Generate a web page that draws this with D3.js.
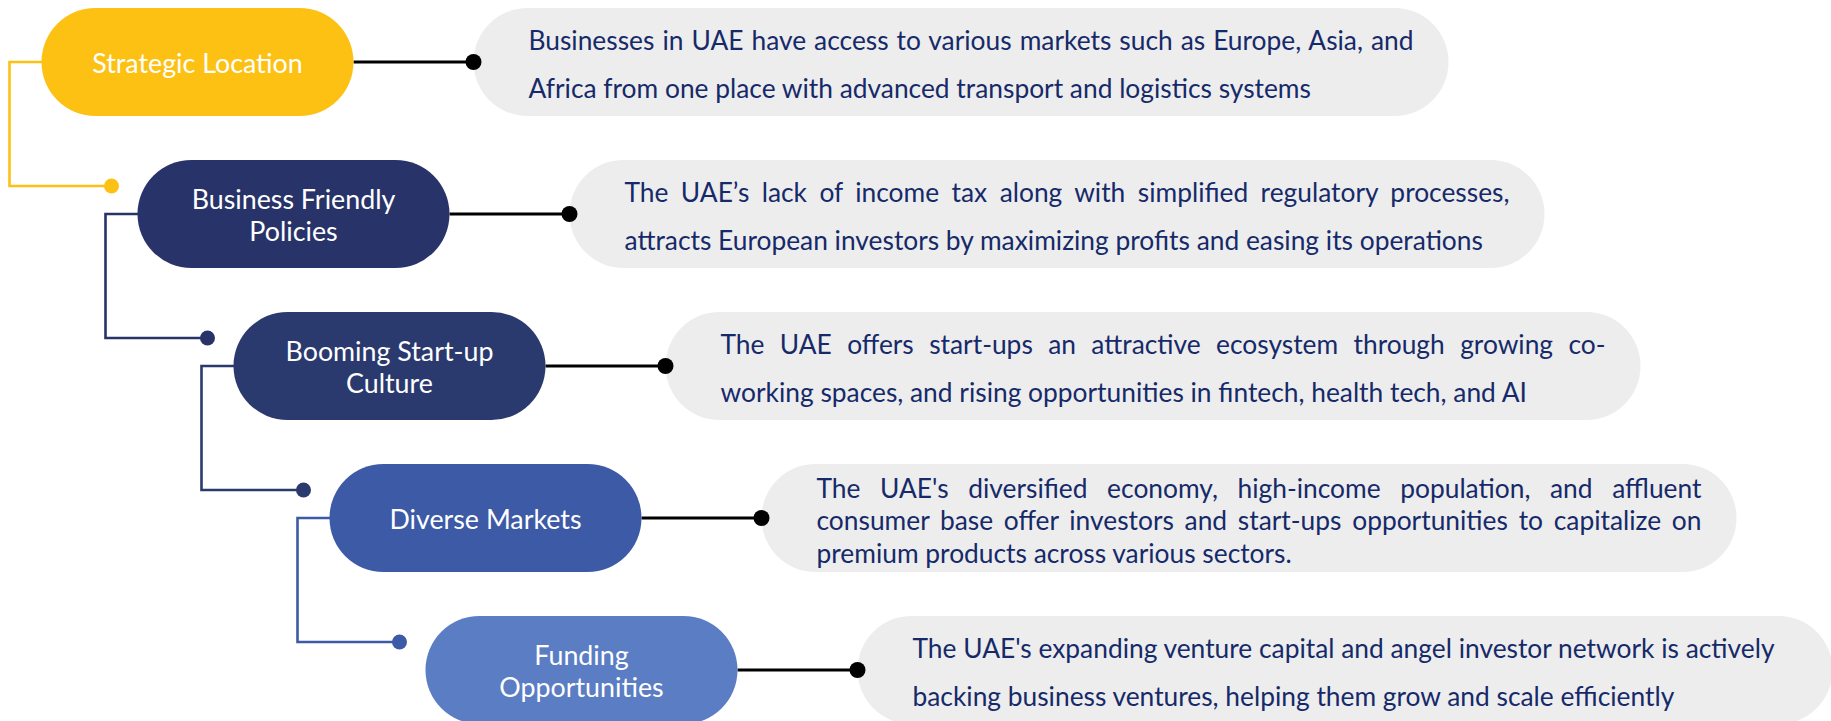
<!DOCTYPE html>
<html>
<head>
<meta charset="utf-8">
<script src="https://cdn.jsdelivr.net/npm/d3@7"></script>
<style>
  html, body { margin: 0; padding: 0; background: #ffffff; overflow: hidden; }
  svg { display: block; }
  text { font-family: Lato, "Open Sans", sans-serif; }
</style>
</head>
<body>
<svg id="chart" width="1831" height="721"></svg>
<script>
// ---------- data ----------
const steps = [0, 1, 2, 3, 4];
const pillLabels = [
  ["Strategic Location"],
  ["Business Friendly", "Policies"],
  ["Booming Start-up", "Culture"],
  ["Diverse Markets"],
  ["Funding", "Opportunities"]
];
const pillColors = ["#FDC114", "#283469", "#2B3A6E", "#3C5AA5", "#5B7DC4"];
const descLines = [
  ["Businesses in UAE have access to various markets such as Europe, Asia, and",
   "Africa from one place with advanced transport and logistics systems"],
  ["The UAE\u2019s lack of income tax along with simplified regulatory processes,",
   "attracts European investors by maximizing profits and easing its operations"],
  ["The UAE offers start-ups an attractive ecosystem through growing co-",
   "working spaces, and rising opportunities in fintech, health tech, and AI"],
  ["The UAE's diversified economy, high-income population, and affluent",
   "consumer base offer investors and start-ups opportunities to capitalize on",
   "premium products across various sectors."],
  ["The UAE's expanding venture capital and angel investor network is actively",
   "backing business ventures, helping them grow and scale efficiently"]
];
const descJustify = [true, true, true, true, false];

// ---------- layout ----------
const W = 1831, H = 721;
const pillW = 312, pillH = 108, boxW = 975;
const x = d3.scaleLinear().domain([0, 4]).range([41.5, 425.5]);   // pill left edge
const y = d3.scaleLinear().domain([0, 4]).range([62, 670]);       // row centre
const boxGap = 120;
const pillFont = 26.8, descFont = 26.35;
const descColor = "#162A6A";

const svg = d3.select("#chart");

// description boxes
const rows = svg.selectAll("g.row").data(steps).join("g").attr("class", "row");

rows.append("rect")
  .attr("x", d => x(d) + pillW + boxGap)
  .attr("y", d => y(d) - pillH / 2)
  .attr("width", boxW).attr("height", pillH)
  .attr("rx", pillH / 2).attr("ry", pillH / 2)
  .attr("fill", "#EDEDED");

// black connectors
rows.append("line")
  .attr("x1", d => x(d) + pillW).attr("x2", d => x(d) + pillW + boxGap)
  .attr("y1", d => y(d)).attr("y2", d => y(d))
  .attr("stroke", "#000").attr("stroke-width", 3);
rows.append("circle")
  .attr("cx", d => x(d) + pillW + boxGap).attr("cy", d => y(d))
  .attr("r", 8).attr("fill", "#000");

// coloured elbow connectors
const links = steps.slice(0, 4);
svg.selectAll("path.elbow").data(links).join("path")
  .attr("class", "elbow")
  .attr("fill", "none")
  .attr("stroke", d => pillColors[d])
  .attr("stroke-width", 2.6)
  .attr("d", d => {
    const vx = x(d) - 32;
    const dy = y(d + 1) - 28;
    const dx = x(d + 1) - 26;
    return `M${x(d) + 2},${y(d)}H${vx}V${dy}H${dx}`;
  });
svg.selectAll("circle.edot").data(links).join("circle")
  .attr("class", "edot")
  .attr("cx", d => x(d + 1) - 26)
  .attr("cy", d => y(d + 1) - 28)
  .attr("r", 7.5)
  .attr("fill", d => pillColors[d]);

// pills
rows.append("rect")
  .attr("x", d => x(d)).attr("y", d => y(d) - pillH / 2)
  .attr("width", pillW).attr("height", pillH)
  .attr("rx", pillH / 2).attr("ry", pillH / 2)
  .attr("fill", d => pillColors[d]);

rows.each(function(d) {
  const g = d3.select(this);
  const lines = pillLabels[d];
  const n = lines.length;
  const spacing = 32;
  lines.forEach((ln, k) => {
    const cyc = y(d) + 1.5 + (k - (n - 1) / 2) * spacing;
    g.append("text")
      .attr("x", x(d) + pillW / 2)
      .attr("y", cyc + pillFont * 0.36)
      .attr("text-anchor", "middle")
      .attr("font-size", pillFont)
      .attr("fill", "#ffffff")
      .text(ln);
  });
});

// description text
const textW = 885;
rows.each(function(d) {
  const g = d3.select(this);
  const lines = descLines[d];
  const n = lines.length;
  const spacing = n === 2 ? 48 : 32.5;
  const left = x(d) + pillW + boxGap + 55;
  lines.forEach((ln, k) => {
    const cyc = y(d) + 3 + (k - (n - 1) / 2) * spacing;
    const t = g.append("text")
      .attr("x", left)
      .attr("y", cyc + descFont * 0.36)
      .attr("font-size", descFont)
      .attr("fill", descColor)
      .text(ln);
    const isLast = k === n - 1;
    if (descJustify[d] && !isLast) {
      const natural = t.node().getComputedTextLength();
      const gaps = ln.split(" ").length - 1;
      if (gaps > 0) t.attr("word-spacing", (textW - natural) / gaps);
    }
  });
});
</script>
</body>
</html>
